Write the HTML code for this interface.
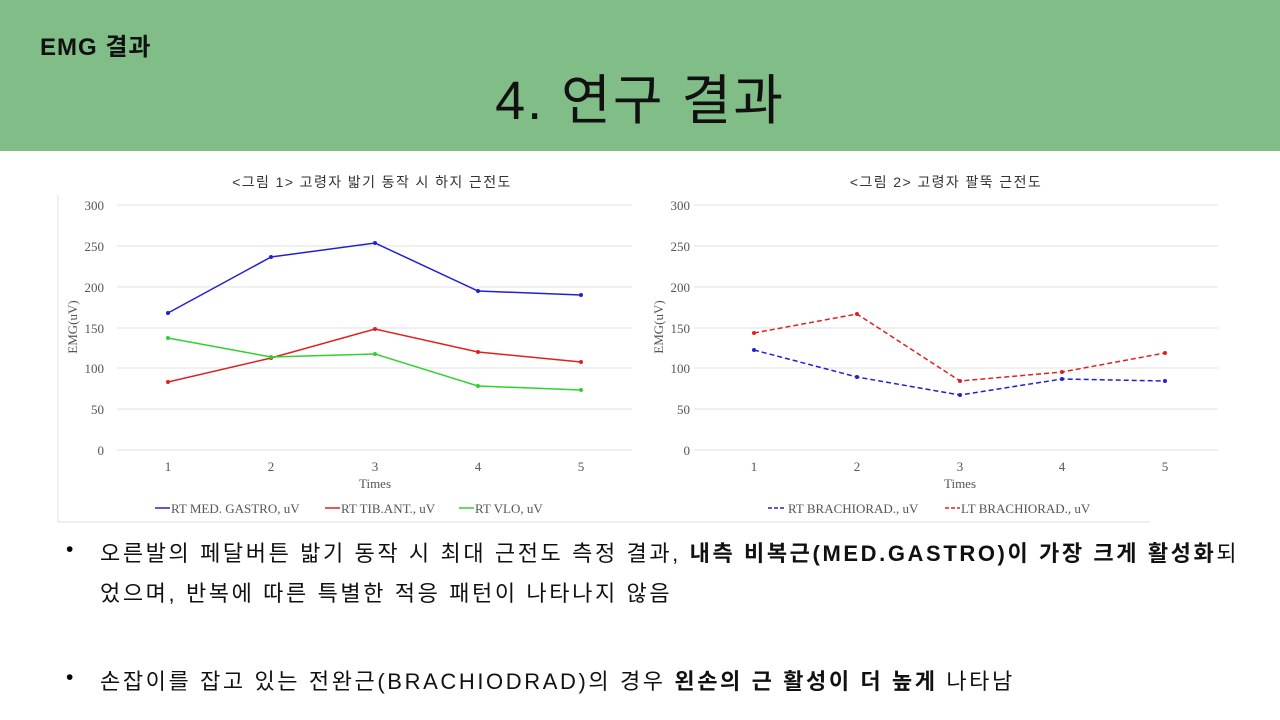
<!DOCTYPE html>
<html><head><meta charset="utf-8"><style>
body{margin:0;width:1280px;height:720px;background:#fff;overflow:hidden;position:relative;font-family:"Liberation Sans","Noto Sans CJK KR",sans-serif}
.hdr{position:absolute;left:0;top:0;width:1280px;height:151px;background:#81bd87}
.t1{position:absolute;left:40px;top:27px;font-size:24px;font-weight:bold;color:#111;letter-spacing:1px}
.t2{position:absolute;left:0;width:1280px;text-align:center;top:56px;font-size:54px;color:#111;letter-spacing:2px}
.b{position:absolute;left:100px;font-size:22px;color:#111;white-space:nowrap;letter-spacing:2.6px}
.d{position:absolute;left:66px;font-size:21px}
</style></head><body>
<div class="hdr"></div>
<div class="t1">EMG 결과</div>
<div class="t2">4. 연구 결과</div>
<svg width="1280" height="720" style="position:absolute;left:0;top:0" font-family="Liberation Serif, serif">
<g stroke="#e2e2e2" stroke-width="1">
<line x1="117" x2="632" y1="205" y2="205"/><line x1="117" x2="632" y1="246" y2="246"/><line x1="117" x2="632" y1="287" y2="287"/><line x1="117" x2="632" y1="328" y2="328"/><line x1="117" x2="632" y1="368" y2="368"/><line x1="117" x2="632" y1="409" y2="409"/><line x1="117" x2="632" y1="450" y2="450"/>
<line x1="694" x2="1218" y1="205" y2="205"/><line x1="694" x2="1218" y1="246" y2="246"/><line x1="694" x2="1218" y1="287" y2="287"/><line x1="694" x2="1218" y1="328" y2="328"/><line x1="694" x2="1218" y1="368" y2="368"/><line x1="694" x2="1218" y1="409" y2="409"/><line x1="694" x2="1218" y1="450" y2="450"/>
<line x1="58" x2="58" y1="195" y2="522"/><line x1="58" x2="645" y1="522" y2="522"/><line x1="645" x2="1150" y1="522" y2="522"/>
</g>
<g fill="#555" font-size="13" text-anchor="end">
<text x="104" y="210">300</text><text x="104" y="251">250</text><text x="104" y="292">200</text><text x="104" y="333">150</text><text x="104" y="373">100</text><text x="104" y="414">50</text><text x="104" y="455">0</text>
<text x="690" y="210">300</text><text x="690" y="251">250</text><text x="690" y="292">200</text><text x="690" y="333">150</text><text x="690" y="373">100</text><text x="690" y="414">50</text><text x="690" y="455">0</text>
</g>
<g fill="#555" font-size="13" text-anchor="middle">
<text x="168" y="471">1</text><text x="271" y="471">2</text><text x="375" y="471">3</text><text x="478" y="471">4</text><text x="581" y="471">5</text>
<text x="754" y="471">1</text><text x="857" y="471">2</text><text x="960" y="471">3</text><text x="1062" y="471">4</text><text x="1165" y="471">5</text>
<text x="375" y="488">Times</text><text x="960" y="488">Times</text>
<text transform="translate(77,327) rotate(-90)">EMG(uV)</text>
<text transform="translate(663,327) rotate(-90)">EMG(uV)</text>
</g>
<g font-family="Liberation Sans, Noto Sans CJK KR, sans-serif" font-size="14" fill="#333" text-anchor="middle" letter-spacing="1.4">
<text x="372" y="187">&lt;그림 1&gt; 고령자 밟기 동작 시  하지 근전도</text>
<text x="946" y="187">&lt;그림 2&gt; 고령자 팔뚝 근전도</text>
</g>
<g fill="none" stroke-width="1.5">
<polyline stroke="#2020d0" points="168,313 271,257 375,243 478,291 581,295"/>
<polyline stroke="#e02020" points="168,382 271,358 375,329 478,352 581,362"/>
<polyline stroke="#30d030" points="168,338 271,357 375,354 478,386 581,390"/>
<polyline stroke="#2020d0" stroke-dasharray="5,3" points="754,350 857,377 960,395 1062,379 1165,381"/>
<polyline stroke="#e02020" stroke-dasharray="5,3" points="754,333 857,314 960,381 1062,372 1165,353"/>
</g>
<g stroke-width="0">
<g fill="#2020d0"><circle cx="168" cy="313" r="2"/><circle cx="271" cy="257" r="2"/><circle cx="375" cy="243" r="2"/><circle cx="478" cy="291" r="2"/><circle cx="581" cy="295" r="2"/>
<circle cx="754" cy="350" r="2"/><circle cx="857" cy="377" r="2"/><circle cx="960" cy="395" r="2"/><circle cx="1062" cy="379" r="2"/><circle cx="1165" cy="381" r="2"/></g>
<g fill="#e02020"><circle cx="168" cy="382" r="2"/><circle cx="271" cy="358" r="2"/><circle cx="375" cy="329" r="2"/><circle cx="478" cy="352" r="2"/><circle cx="581" cy="362" r="2"/>
<circle cx="754" cy="333" r="2"/><circle cx="857" cy="314" r="2"/><circle cx="960" cy="381" r="2"/><circle cx="1062" cy="372" r="2"/><circle cx="1165" cy="353" r="2"/></g>
<g fill="#30d030"><circle cx="168" cy="338" r="2"/><circle cx="271" cy="357" r="2"/><circle cx="375" cy="354" r="2"/><circle cx="478" cy="386" r="2"/><circle cx="581" cy="390" r="2"/></g>
</g>
<g font-size="13" fill="#555">
<line x1="155" x2="170" y1="508" y2="508" stroke="#2020d0" stroke-width="1.5"/><text x="171" y="513">RT MED. GASTRO, uV</text>
<line x1="325" x2="340" y1="508" y2="508" stroke="#e02020" stroke-width="1.5"/><text x="341" y="513">RT TIB.ANT., uV</text>
<line x1="459" x2="474" y1="508" y2="508" stroke="#30d030" stroke-width="1.5"/><text x="475" y="513">RT VLO, uV</text>
<line x1="768" x2="784" y1="508" y2="508" stroke="#2020d0" stroke-width="1.5" stroke-dasharray="4,2"/><text x="788" y="513">RT BRACHIORAD., uV</text>
<line x1="945" x2="960" y1="508" y2="508" stroke="#e02020" stroke-width="1.5" stroke-dasharray="4,2"/><text x="961" y="513">LT BRACHIORAD., uV</text>
</g>
</svg>
<div class="d" style="top:538px">•</div>
<div class="b" style="top:536px">오른발의 페달버튼 밟기 동작 시 최대 근전도 측정 결과, <b>내측 비복근(MED.GASTRO)이 가장 크게 활성화</b>되</div>
<div class="b" style="top:576px">었으며, 반복에 따른 특별한 적응 패턴이 나타나지 않음</div>
<div class="d" style="top:666px">•</div>
<div class="b" style="top:664px">손잡이를 잡고 있는 전완근(BRACHIODRAD)의 경우 <b>왼손의 근 활성이 더 높게</b> 나타남</div>
</body></html>
